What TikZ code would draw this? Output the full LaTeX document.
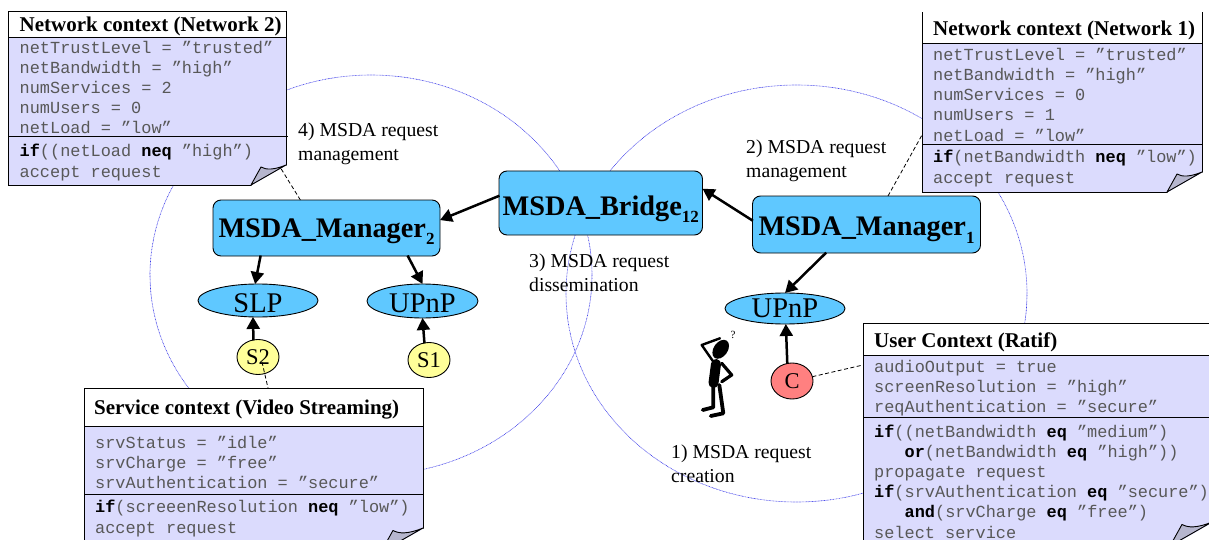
\documentclass[tikz,border=0pt]{standalone}
\usepackage{fontspec}
\usetikzlibrary{arrows.meta,shapes.geometric}
\setmainfont{Liberation Serif}
\setmonofont{Liberation Mono}
\definecolor{boxblue}{HTML}{5FC8FF}
\definecolor{lav}{HTML}{DBDBFD}
\definecolor{foldc}{HTML}{B6B6CE}
\definecolor{codegray}{HTML}{585858}
\definecolor{ringblue}{HTML}{3838E8}
\definecolor{sy}{HTML}{FFFF99}
\definecolor{cr}{HTML}{FF8080}
\newcommand{\kw}[1]{\textbf{\textcolor{black}{#1}}}
\newcommand{\subs}[1]{\raisebox{-0.28em}{\fontsize{17}{18}\selectfont #1}}
\newcommand{\lowered}[2]{\raisebox{-#1pt}[19pt][0pt]{#2}}
\tikzset{
 x=1pt,y=-1pt,
 ring/.style={ringblue,line width=0.6pt,dash pattern=on 0.8pt off 0.7pt},
 notebox/.style={rectangle,draw=black,line width=0.9pt,fill=lav,inner sep=0,outer sep=0},
 notetitle/.style={anchor=base west,inner sep=0,font=\fontsize{21}{22}\selectfont\bfseries},
 code/.style={anchor=base west,inner sep=0,text=codegray,font=\fontsize{16.9}{20}\ttfamily},
 mgr/.style={rectangle,rounded corners=8pt,draw=black,line width=0.9pt,fill=boxblue,inner sep=0,outer sep=0,text depth=2pt,font=\fontsize{28.3}{30}\selectfont\bfseries},
 proto/.style={ellipse,draw=black,line width=0.9pt,fill=boxblue,inner sep=0,outer sep=0,font=\fontsize{28.5}{30}\selectfont},
 svc/.style={ellipse,draw=black,line width=0.9pt,inner sep=0,outer sep=0,minimum width=42pt,minimum height=35pt,font=\fontsize{22.5}{24}\selectfont},
 lab/.style={anchor=base west,inner sep=0,font=\fontsize{19.7}{20}\selectfont},
 arr/.style={-{Triangle[length=12pt,width=13pt]},line width=2.5pt,shorten <=-0.5pt},
 dashc/.style={line width=0.8pt,dash pattern=on 4pt off 2.5pt},
 foldpic/.pic={
   \fill[white] (-36,21.5) -- (1.5,21.5) -- (1.5,0) -- cycle;
   \draw[line width=0.9pt,fill=foldc,line join=round] (-35,20) -- (-25,2) .. controls (-20,5) and (-12,5) .. (0,0) -- cycle;
 },
}
\begin{document}
\begin{tikzpicture}
\useasboundingbox (0,0) rectangle (1209,540);
% rings
\draw[ring] (371,275) ellipse [x radius=221,y radius=200];
\draw[ring] (796.5,293.5) ellipse [x radius=230.5,y radius=208.5];
% note boxes
\node[notebox,minimum width=277.5pt,minimum height=173.5pt] (noteTwo) at (147.25,98.25) {};
\fill[white] (9,12) rectangle (285.5,37.5);
\draw[line width=0.9pt] (8.5,37.5) -- (286,37.5) (8.5,136.5) -- (288,136.5);
\pic at (286,165) {foldpic};
\node[notebox,minimum width=280pt,minimum height=180pt] (noteOne) at (1062,102) {};
\fill[white] (922.5,12.5) rectangle (1201.5,43.5);
\draw[line width=0.9pt] (922,43.5) -- (1202,43.5) (922,144) -- (1202,144);
\pic at (1202,172) {foldpic};
\node[notebox,minimum width=350pt,minimum height=237pt] (noteU) at (1038,441.5) {};
\fill[white] (863.5,323.5) rectangle (1213,355);
\draw[line width=0.9pt] (863,355) -- (1213,355) (863,417) -- (1213,417);
\pic[scale=1.2] at (1212,522) {foldpic};
\node[notebox,minimum width=339pt,minimum height=172pt] (noteS) at (253.5,474) {};
\fill[white] (84.5,388.5) rectangle (422.5,426);
\draw[line width=0.9pt] (84,426) -- (423,426) (84,494) -- (423,494);
\pic[scale=1.2] at (423,528) {foldpic};
% note text: network 2
\node[notetitle] (t2) at (19.5,32) {Network context (Network 2)};
\node[code] (a1) at (19.5,54) {netTrustLevel = ”trusted”};
\node[code] (a2) at (19.5,74) {netBandwidth = ”high”};
\node[code] (a3) at (19.5,94) {numServices = 2};
\node[code] (a4) at (19.5,114) {numUsers = 0};
\node[code] (a5) at (19.5,134) {netLoad = ”low”};
\node[code] (a6) at (19.5,157) {\kw{if}((netLoad \kw{neq} ”high”)};
\node[code] (a7) at (19.5,178) {accept request};
% network 1
\node[notetitle] (t1) at (933,36) {Network context (Network 1)};
\node[code] (b1) at (933,61) {netTrustLevel = ”trusted”};
\node[code] (b2) at (933,81) {netBandwidth = ”high”};
\node[code] (b3) at (933,101) {numServices = 0};
\node[code] (b4) at (933,121) {numUsers = 1};
\node[code] (b5) at (933,142) {netLoad = ”low”};
\node[code] (b6) at (933,163) {\kw{if}(netBandwidth \kw{neq} ”low”)};
\node[code] (b7) at (933,184) {accept request};
% user
\node[notetitle] (tu) at (874,347) {User Context (Ratif)};
\node[code] (c1) at (874,372) {audioOutput = true};
\node[code] (c2) at (874,392) {screenResolution = ”high”};
\node[code] (c3) at (874,412) {reqAuthentication = ”secure”};
\node[code] (c4) at (874,437) {\kw{if}((netBandwidth \kw{eq} ”medium”)};
\node[code] (c5) at (904.5,457) {\kw{or}(netBandwidth \kw{eq} ”high”))};
\node[code] (c6) at (874,477) {propagate request};
\node[code] (c7) at (874,497) {\kw{if}(srvAuthentication \kw{eq} ”secure”)};
\node[code] (c8) at (904.5,517) {\kw{and}(srvCharge \kw{eq} ”free”)};
\node[code] (c9) at (874,538) {select service};
% service
\node[notetitle] (ts) at (94,414) {Service context (Video Streaming)};
\node[code] (d1) at (95,448) {srvStatus = ”idle”};
\node[code] (d2) at (95,468) {srvCharge = ”free”};
\node[code] (d3) at (95,488) {srvAuthentication = ”secure”};
\node[code] (d4) at (95,512) {\kw{if}(screeenResolution \kw{neq} ”low”)};
\node[code] (d5) at (95,533) {accept request};
% main nodes
\node[mgr,text height=20pt,minimum width=227pt,minimum height=56pt] (m2) at (326.5,228) {MSDA\_Manager\subs{2}};
\node[mgr,text height=26pt,minimum width=203.5pt,minimum height=64pt] (br) at (600.75,203) {MSDA\_Bridge\subs{12}};
\node[mgr,text height=24pt,minimum width=228pt,minimum height=57pt] (m1) at (866.5,224.5) {MSDA\_Manager\subs{1}};
\node[proto,minimum width=120pt,minimum height=33pt] (slp) at (258,300.5) {\lowered{2}{SLP}};
\node[proto,minimum width=111pt,minimum height=34pt] (upL) at (422.5,301) {\lowered{2}{UPnP}};
\node[proto,minimum width=120pt,minimum height=31pt] (upR) at (785,308.5) {UPnP};
\node[svc,fill=sy] (s2) at (258,357) {S2};
\node[svc,fill=sy] (s1) at (429,360) {S1};
\node[svc,fill=cr,minimum height=36pt] (cc) at (792,381) {C};
% connectors
\draw[arr] (m1.178) -- (br.8.4);
\draw[arr] (br.176) -- (m2.4);
\draw[arr] (m2.-157) -- (slp.100);
\draw[arr] (m2.-19) -- (upL.north);
\draw[arr] (m1.-145) -- (upR.north);
\draw[arr] (s2.105) -- (slp.-107);
\draw[arr] (s1.105) -- (upL.south);
\draw[arr] (cc.105) -- (upR.-87);
\coordinate (tipTwo) at (280,167);
\coordinate (tipOne) at (922,135);
\coordinate (tipU) at (863,365);
\coordinate (tipS) at (268,388);
\coordinate (inS) at (262,362);
\draw[dashc] (m2.133.4) -- (tipTwo);
\draw[dashc] (m1.53) -- (tipOne);
\draw[dashc] (cc.12) -- (tipU);
\draw[dashc] (inS) -- (tipS);
% step labels
\node[lab] (l4a) at (298,137) {4) MSDA request};
\node[lab] (l4b) at (298,161) {management};
\node[lab] (l2a) at (746,154) {2) MSDA request};
\node[lab] (l2b) at (746,178) {management};
\node[lab] (l3a) at (529,267) {3) MSDA request};
\node[lab] (l3b) at (529,291) {dissemination};
\node[lab] (l1a) at (671,458) {1) MSDA request};
\node[lab] (l1b) at (671,482) {creation};
% figure
\begin{scope}[line cap=round,line join=round]
\fill[shift={(720.7,349.3)},rotate=55] (0,0) ellipse [x radius=10.5,y radius=7];
\draw[line width=2.4pt] (713.3,361.7) -- (701.7,345) -- (720,338.3);
\draw[line width=10pt] (716,364) -- (713.5,383);
\draw[line width=3.2pt] (721.7,363.3) -- (731.7,375) -- (721.7,381.7);
\draw[line width=3.8pt] (713.3,385) -- (713.3,407.3) -- (702.7,410);
\draw[line width=3.8pt] (719.3,385) -- (723.3,413.3) -- (710.7,416);
\end{scope}
\node[inner sep=0,font=\fontsize{11}{12}\selectfont] (qm) at (733,335) {?};
\end{tikzpicture}
\end{document}
